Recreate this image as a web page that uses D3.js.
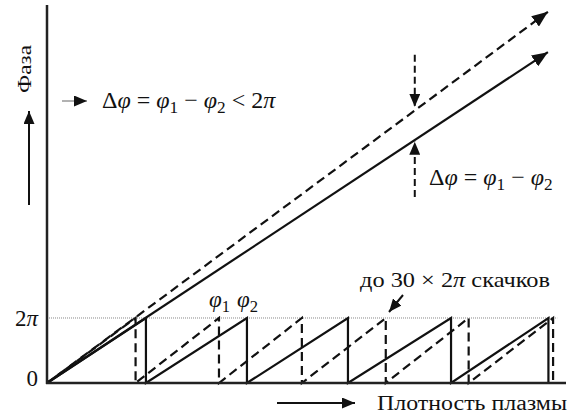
<!DOCTYPE html>
<html>
<head>
<meta charset="utf-8">
<script src="https://cdn.jsdelivr.net/npm/d3@7"></script>
<style>
  body { margin: 0; background: #fff; }
  svg text { font-family: "Liberation Serif", "DejaVu Serif", serif; fill: #111; }
</style>
</head>
<body>
<div></div>
<script>
'use strict';

var serif = "Liberation Serif, DejaVu Serif, serif";

// density in arbitrary units (0..10), phase in multiples of 2π
var yTickValues = [0, 1];
var yTickLabels = ["0", "2π"];

// where each wrapped phase jumps back from 2π to 0
var phi1Jumps = [1.71, 3.32, 4.92, 6.54, 8.14, 9.77];
var phi2Jumps = [1.91, 3.86, 5.81, 7.80, 9.68];

// unwrapped phases (start and end of the rays)
var phi1Ray = [[0, 0], [9.67, 5.71]];
var phi2Ray = [[0, 0], [9.67, 5.09]];

// annotation arrows, in data units
var deltaDownArrow = [[7.10, 5.05], [7.10, 4.25]];
var deltaUpArrow = [[7.10, 2.86], [7.10, 3.71]];

var svgWidth = 570;
var svgHeight = 417;
var origin = {x: 47, y: 383};

var xScale = d3.scaleLinear()
    .domain([0, 10])
    .range([origin.x, 565]);

var yScale = d3.scaleLinear()
    .domain([0, 5.815])
    .range([origin.y, 5]);

var svg = d3.select("div")
  .append("svg")
    .attr("width", svgWidth)
    .attr("height", svgHeight)
    .attr("font-family", serif)
    .style("display", "block");

var defs = svg.append("defs");
function addMarker(id, w, h) {
  defs.append("marker")
      .attr("id", id)
      .attr("viewBox", "0 0 " + w + " " + h)
      .attr("refX", w)
      .attr("refY", h / 2)
      .attr("markerWidth", w)
      .attr("markerHeight", h)
      .attr("markerUnits", "userSpaceOnUse")
      .attr("orient", "auto")
    .append("path")
      .attr("d", "M0,0L" + w + "," + (h / 2) + "L0," + h + "Z")
      .attr("fill", "#111");
}
addMarker("bigHead", 16, 13);
addMarker("head", 13, 11);

var line = d3.line()
    .x(function(d) { return xScale(d[0]); })
    .y(function(d) { return yScale(d[1]); });

// dotted 2π level
svg.append("line")
    .attr("x1", xScale(0))
    .attr("x2", xScale(9.85))
    .attr("y1", yScale(1))
    .attr("y2", yScale(1))
    .attr("stroke", "#888")
    .attr("stroke-width", 1)
    .attr("stroke-dasharray", "1,1");

// wrapped phases (sawtooth)
function sawtooth(jumps) {
  var pts = [[0, 0]];
  jumps.forEach(function(j) {
    pts.push([j, 1]);
    pts.push([j, 0]);
  });
  return pts;
}

svg.append("path")
    .datum(sawtooth(phi1Jumps))
    .attr("fill", "none")
    .attr("stroke", "#111")
    .attr("stroke-width", 2.2)
    .attr("stroke-dasharray", "9,5")
    .attr("stroke-dashoffset", 5)
    .attr("d", line);

svg.append("path")
    .datum(sawtooth(phi2Jumps))
    .attr("fill", "none")
    .attr("stroke", "#111")
    .attr("stroke-width", 2.2)
    .attr("d", line);

// unwrapped phases
svg.append("path")
    .datum(phi1Ray)
    .attr("fill", "none")
    .attr("stroke", "#111")
    .attr("stroke-width", 2.2)
    .attr("stroke-dasharray", "9,5")
    .attr("marker-end", "url(#bigHead)")
    .attr("d", line);

svg.append("path")
    .datum(phi2Ray)
    .attr("fill", "none")
    .attr("stroke", "#111")
    .attr("stroke-width", 2.2)
    .attr("marker-end", "url(#bigHead)")
    .attr("d", line);

// axes
var yAxis = svg.append("g")
    .attr("transform", "translate(" + origin.x + ",0)")
    .call(d3.axisLeft(yScale).tickValues(yTickValues).tickSize(0).tickPadding(9)
      .tickFormat(function(d, i) { return yTickLabels[i]; }));
yAxis.attr("font-family", serif);
yAxis.select(".domain").remove();
yAxis.selectAll("text")
    .attr("font-size", 23)
    .each(function(d, i) {
      var t = d3.select(this);
      var label = yTickLabels[i];
      if (label.indexOf("π") >= 0) {
        t.text(label.replace("π", ""));
        t.append("tspan").attr("font-style", "italic").text("π");
      }
    });
yAxis.selectAll("text").filter(function(d) { return d === 0; })
    .attr("dy", "0.1em");

svg.append("line")
    .attr("x1", origin.x).attr("x2", origin.x)
    .attr("y1", yScale(5.815)).attr("y2", origin.y + 1)
    .attr("stroke", "#222").attr("stroke-width", 2.5);
svg.append("line")
    .attr("x1", origin.x - 1).attr("x2", xScale(10) + 1)
    .attr("y1", origin.y).attr("y2", origin.y)
    .attr("stroke", "#222").attr("stroke-width", 2.5);

// axis titles and direction arrows
svg.append("text")
    .attr("transform", "translate(31,69) rotate(-90)")
    .attr("text-anchor", "middle")
    .attr("font-size", 18)
    .attr("textLength", 48)
    .attr("lengthAdjust", "spacingAndGlyphs")
    .text("Фаза");

svg.append("line")
    .attr("x1", 29).attr("x2", 29)
    .attr("y1", 205).attr("y2", 111)
    .attr("stroke", "#111").attr("stroke-width", 2)
    .attr("marker-end", "url(#head)");

svg.append("line")
    .attr("x1", 277).attr("x2", 355)
    .attr("y1", 403).attr("y2", 403)
    .attr("stroke", "#111").attr("stroke-width", 2)
    .attr("marker-end", "url(#head)");

svg.append("text")
    .attr("x", 377).attr("y", 410)
    .attr("font-size", 20)
    .attr("textLength", 190)
    .attr("lengthAdjust", "spacingAndGlyphs")
    .text("Плотность плазмы");

// math label helper: parts are [text, kind]
function mathText(x, y, size, parts) {
  var t = svg.append("text").attr("x", x).attr("y", y).attr("font-size", size);
  var shifted = false;
  parts.forEach(function(p) {
    var s = t.append("tspan").text(p[0]);
    if (p[1] === "i") s.attr("font-style", "italic");
    if (p[1] === "sub") {
      s.attr("font-size", size * 0.72).attr("dy", size * 0.22);
      shifted = true;
    } else if (shifted) {
      s.attr("dy", -size * 0.22);
      shifted = false;
    }
  });
  return t;
}

// Δφ < 2π annotation
svg.append("line")
    .attr("x1", 62).attr("x2", 87)
    .attr("y1", 101).attr("y2", 101)
    .attr("stroke", "#999").attr("stroke-width", 1.5)
    .attr("marker-end", "url(#head)");
mathText(102, 108, 24, [["Δ", ""], ["φ", "i"], [" = ", ""], ["φ", "i"], ["1", "sub"],
  [" − ", ""], ["φ", "i"], ["2", "sub"], [" < 2", ""], ["π", "i"]]);

// Δφ between rays
svg.append("path")
    .datum(deltaDownArrow)
    .attr("fill", "none")
    .attr("stroke", "#111").attr("stroke-width", 2)
    .attr("stroke-dasharray", "7,4")
    .attr("marker-end", "url(#head)")
    .attr("d", line);
svg.append("path")
    .datum(deltaUpArrow)
    .attr("fill", "none")
    .attr("stroke", "#111").attr("stroke-width", 2)
    .attr("stroke-dasharray", "7,4")
    .attr("marker-end", "url(#head)")
    .attr("d", line);
mathText(429, 185, 24, [["Δ", ""], ["φ", "i"], [" = ", ""], ["φ", "i"], ["1", "sub"],
  [" − ", ""], ["φ", "i"], ["2", "sub"]]);

// φ1 φ2 labels
mathText(209, 307, 23, [["φ", "i"], ["1", "sub"]]);
mathText(237, 307, 23, [["φ", "i"], ["2", "sub"]]);

// number of jumps
mathText(360, 287, 21, [["до 30 × 2", ""], ["π", "i"], [" скачков", ""]])
    .attr("textLength", 190)
    .attr("lengthAdjust", "spacingAndGlyphs");
svg.append("line")
    .attr("x1", 403).attr("x2", 389)
    .attr("y1", 295).attr("y2", 312)
    .attr("stroke", "#111").attr("stroke-width", 2)
    .attr("marker-end", "url(#head)");
</script>
</body>
</html>
